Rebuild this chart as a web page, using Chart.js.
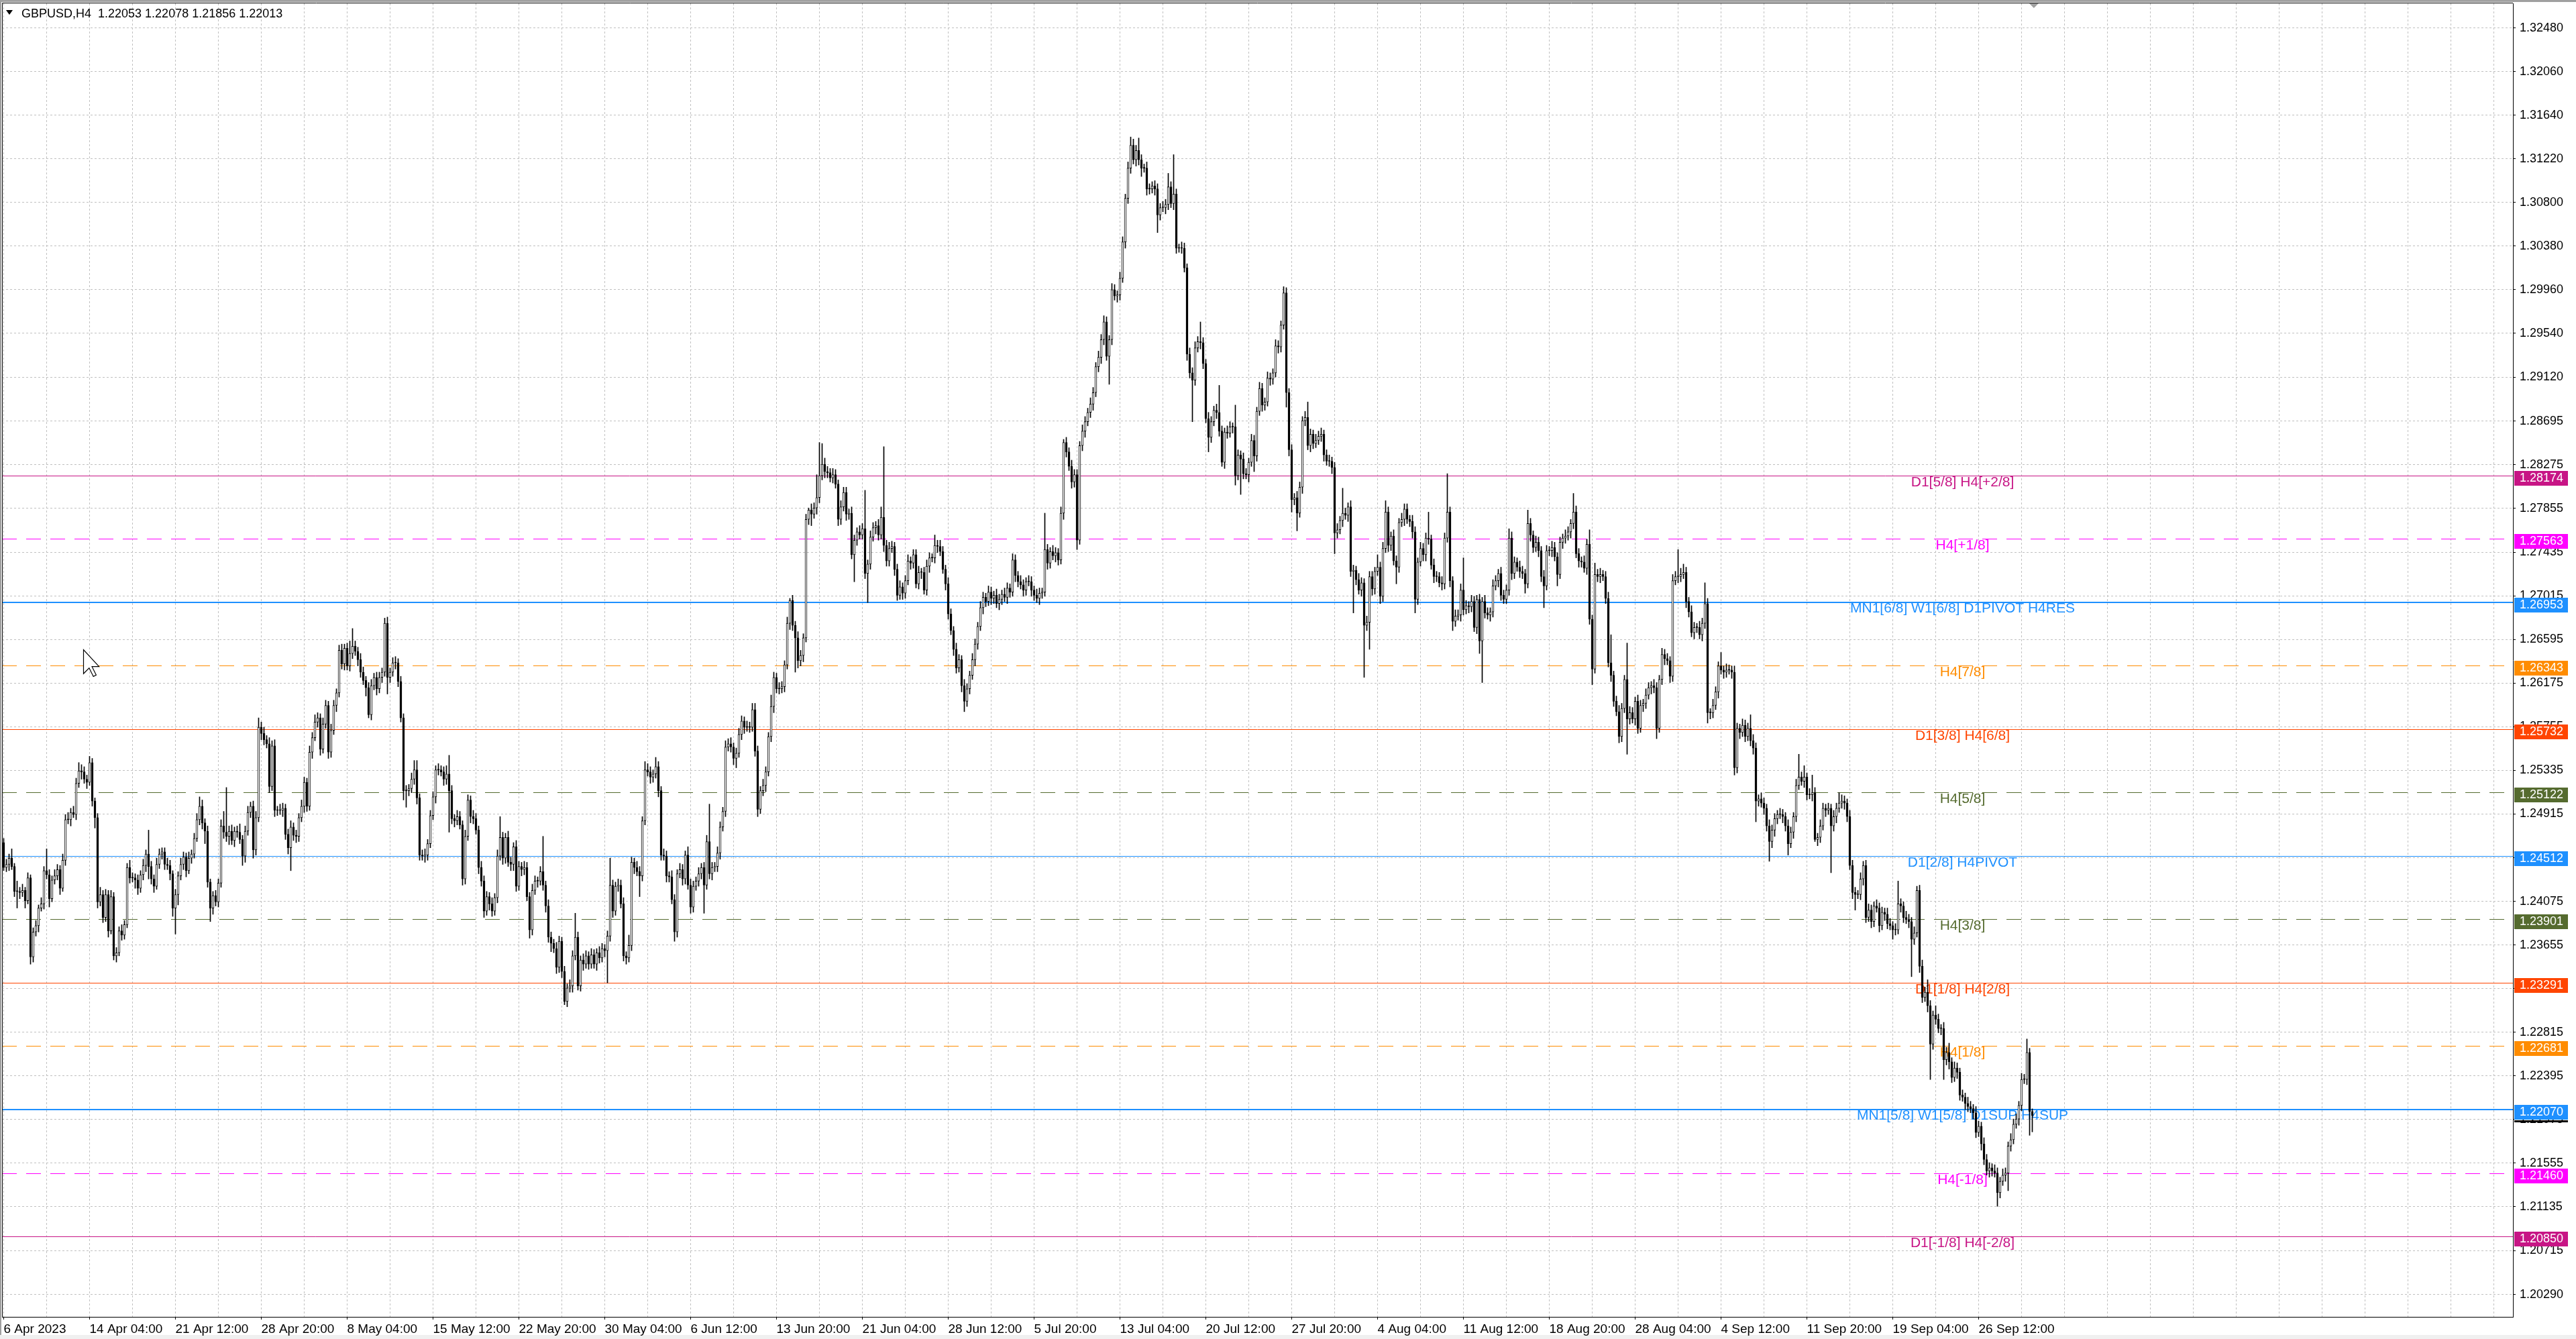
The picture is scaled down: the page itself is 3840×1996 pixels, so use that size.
<!DOCTYPE html>
<html>
<head>
<title>GBPUSD,H4</title>
<script src="https://cdn.jsdelivr.net/npm/chart.js"></script>
<style>
  html, body { margin: 0; padding: 0; background: #fff; }
  #wrap { width: 3840px; height: 1996px; }
</style>
</head>
<body>
<div id="wrap"><canvas id="myChart"></canvas></div>
<script>
const symbol = 'GBPUSD,H4';
const lastOHLC = [1.22053, 1.22078, 1.21856, 1.22013];
const firstOpen = 1.2464;

// H4 closes, one per bar, from 6 Apr 2023 20:00 (open of a bar = close of the one before)
const closes = [
  1.2440,1.2443,1.2449,1.2441,1.2417,1.2417,1.2416,1.2418,1.2408,1.2430,
  1.2354,1.2378,1.2384,1.2401,1.2405,1.2437,1.2433,1.2410,1.2428,1.2432,
  1.2438,1.2420,1.2447,1.2486,1.2486,1.2493,1.2491,1.2521,1.2533,1.2532,
  1.2525,1.2522,1.2541,1.2504,1.2488,1.2407,1.2414,1.2392,1.2414,1.2379,
  1.2412,1.2355,1.2358,1.2379,1.2375,1.2385,1.2440,1.2430,1.2430,1.2428,
  1.2420,1.2433,1.2442,1.2453,1.2441,1.2429,1.2422,1.2443,1.2453,1.2455,
  1.2443,1.2442,1.2434,1.2401,1.2414,1.2432,1.2443,1.2450,1.2437,1.2449,
  1.2453,1.2468,1.2486,1.2499,1.2483,1.2475,1.2426,1.2401,1.2413,1.2407,
  1.2425,1.2480,1.2474,1.2470,1.2475,1.2466,1.2475,1.2474,1.2467,1.2451,
  1.2475,1.2493,1.2499,1.2457,1.2488,1.2575,1.2569,1.2563,1.2559,1.2518,
  1.2557,1.2495,1.2495,1.2495,1.2497,1.2472,1.2459,1.2479,1.2471,1.2470,
  1.2488,1.2499,1.2522,1.2499,1.2551,1.2565,1.2580,1.2584,1.2554,1.2578,
  1.2596,1.2551,1.2572,1.2596,1.2608,1.2649,1.2636,1.2651,1.2634,1.2646,
  1.2653,1.2648,1.2640,1.2628,1.2620,1.2613,1.2587,1.2615,1.2623,1.2612,
  1.2623,1.2628,1.2675,1.2623,1.2628,1.2637,1.2637,1.2619,1.2584,1.2514,
  1.2514,1.2516,1.2525,1.2534,1.2507,1.2452,1.2451,1.2452,1.2463,1.2490,
  1.2508,1.2534,1.2534,1.2532,1.2525,1.2530,1.2514,1.2487,1.2485,1.2489,
  1.2481,1.2429,1.2470,1.2505,1.2489,1.2487,1.2476,1.2440,1.2427,1.2398,
  1.2412,1.2405,1.2398,1.2411,1.2451,1.2469,1.2449,1.2469,1.2445,1.2443,
  1.2460,1.2422,1.2441,1.2438,1.2440,1.2412,1.2380,1.2418,1.2427,1.2427,
  1.2436,1.2423,1.2403,1.2373,1.2367,1.2362,1.2344,1.2369,1.2340,1.2311,
  1.2324,1.2326,1.2355,1.2373,1.2326,1.2351,1.2347,1.2355,1.2347,1.2356,
  1.2347,1.2358,1.2353,1.2362,1.2360,1.2374,1.2423,1.2398,1.2422,1.2423,
  1.2405,1.2355,1.2353,1.2365,1.2445,1.2440,1.2436,1.2432,1.2485,1.2534,
  1.2532,1.2527,1.2530,1.2537,1.2514,1.2452,1.2451,1.2432,1.2431,1.2409,
  1.2378,1.2434,1.2438,1.2429,1.2452,1.2423,1.2402,1.2422,1.2427,1.2434,
  1.2440,1.2423,1.2465,1.2434,1.2440,1.2441,1.2454,1.2479,1.2494,1.2556,
  1.2559,1.2556,1.2545,1.2550,1.2568,1.2581,1.2575,1.2575,1.2575,1.2592,
  1.2552,1.2496,1.2514,1.2519,1.2532,1.2566,1.2595,1.2623,1.2612,1.2612,
  1.2614,1.2635,1.2675,1.2697,1.2673,1.2661,1.2639,1.2644,1.2661,1.2775,
  1.2784,1.2780,1.2786,1.2796,1.2817,1.2828,1.2821,1.2820,1.2815,1.2818,
  1.2809,1.2775,1.2787,1.2801,1.2780,1.2781,1.2741,1.2755,1.2763,1.2760,
  1.2766,1.2723,1.2732,1.2758,1.2767,1.2769,1.2760,1.2777,1.2750,1.2735,
  1.2747,1.2749,1.2727,1.2702,1.2710,1.2704,1.2716,1.2735,1.2733,1.2741,
  1.2713,1.2724,1.2724,1.2707,1.2730,1.2738,1.2738,1.2750,1.2749,1.2744,
  1.2727,1.2713,1.2684,1.2668,1.2650,1.2632,1.2640,1.2615,1.2600,1.2612,
  1.2625,1.2640,1.2655,1.2672,1.2690,1.2700,1.2696,1.2705,1.2699,1.2702,
  1.2694,1.2698,1.2703,1.2700,1.2709,1.2705,1.2736,1.2721,1.2715,1.2712,
  1.2707,1.2715,1.2715,1.2707,1.2702,1.2699,1.2704,1.2705,1.2746,1.2733,
  1.2744,1.2740,1.2743,1.2736,1.2781,1.2849,1.2840,1.2826,1.2811,1.2818,
  1.2755,1.2846,1.2860,1.2869,1.2878,1.2886,1.2897,1.2922,1.2931,1.2948,
  1.2965,1.2932,1.2948,1.2996,1.2990,1.2991,1.3007,1.3042,1.3084,1.3113,
  1.3135,1.3121,1.3130,1.3121,1.3113,1.3113,1.3093,1.3093,1.3096,1.3093,
  1.3068,1.3075,1.3075,1.3078,1.3095,1.3079,1.3088,1.3036,1.3036,1.3036,
  1.3017,1.2934,1.2916,1.2909,1.2940,1.2946,1.2945,1.2925,1.2872,1.2854,
  1.2869,1.2880,1.2878,1.2860,1.2830,1.2859,1.2858,1.2864,1.2864,1.2817,
  1.2837,1.2833,1.2819,1.2818,1.2830,1.2851,1.2836,1.2879,1.2901,1.2885,
  1.2888,1.2911,1.2910,1.2916,1.2942,1.2941,1.2962,1.2993,1.2897,1.2842,
  1.2794,1.2796,1.2781,1.2806,1.2870,1.2873,1.2846,1.2857,1.2848,1.2851,
  1.2855,1.2857,1.2837,1.2831,1.2831,1.2825,1.2762,1.2765,1.2774,1.2781,
  1.2779,1.2787,1.2725,1.2726,1.2717,1.2707,1.2714,1.2673,1.2676,1.2720,
  1.2708,1.2725,1.2729,1.2701,1.2747,1.2782,1.2750,1.2759,1.2735,1.2729,
  1.2772,1.2775,1.2785,1.2775,1.2773,1.2763,1.2698,1.2734,1.2747,1.2741,
  1.2757,1.2756,1.2731,1.2720,1.2720,1.2714,1.2713,1.2757,1.2782,1.2716,
  1.2677,1.2682,1.2683,1.2707,1.2688,1.2692,1.2691,1.2696,1.2671,1.2698,
  1.2658,1.2696,1.2685,1.2683,1.2686,1.2711,1.2716,1.2723,1.2702,1.2698,
  1.2707,1.2757,1.2723,1.2734,1.2729,1.2725,1.2723,1.2713,1.2771,1.2760,
  1.2748,1.2753,1.2745,1.2720,1.2711,1.2745,1.2745,1.2748,1.2739,1.2722,
  1.2753,1.2757,1.2759,1.2763,1.2771,1.2782,1.2742,1.2735,1.2734,1.2728,
  1.2751,1.2679,1.2631,1.2722,1.2720,1.2722,1.2720,1.2699,1.2637,1.2625,
  1.2600,1.2590,1.2566,1.2593,1.2621,1.2583,1.2589,1.2583,1.2600,1.2574,
  1.2596,1.2598,1.2606,1.2613,1.2615,1.2613,1.2574,1.2621,1.2645,1.2641,
  1.2639,1.2624,1.2716,1.2720,1.2720,1.2722,1.2724,1.2696,1.2686,1.2666,
  1.2671,1.2671,1.2664,1.2675,1.2694,1.2589,1.2589,1.2596,1.2609,1.2634,
  1.2630,1.2628,1.2630,1.2630,1.2628,1.2536,1.2574,1.2570,1.2577,1.2566,
  1.2574,1.2562,1.2555,1.2504,1.2506,1.2502,1.2497,1.2480,1.2465,1.2476,
  1.2487,1.2491,1.2491,1.2489,1.2480,1.2463,1.2474,1.2489,1.2519,1.2527,
  1.2523,1.2527,1.2510,1.2510,1.2512,1.2467,1.2469,1.2480,1.2497,1.2495,
  1.2497,1.2480,1.2489,1.2497,1.2502,1.2504,1.2502,1.2489,1.2442,1.2416,
  1.2414,1.2414,1.2429,1.2442,1.2392,1.2399,1.2388,1.2403,1.2401,1.2384,
  1.2397,1.2395,1.2386,1.2384,1.2380,1.2380,1.2405,1.2403,1.2392,1.2390,
  1.2388,1.2371,1.2377,1.2418,1.2345,1.2315,1.2320,1.2307,1.2270,1.2298,
  1.2294,1.2285,1.2285,1.2255,1.2262,1.2253,1.2238,1.2247,1.2243,1.2221,
  1.2219,1.2213,1.2210,1.2208,1.2204,1.2185,1.2191,1.2174,1.2159,1.2148,
  1.2151,1.2148,1.2146,1.2127,1.2138,1.2144,1.2146,1.2172,1.2178,1.2193,
  1.2198,1.2211,1.2236,1.2236,1.2262,1.22053,1.22013
];

// upper / lower shadow of each bar, in pips
const wickUp = [
  4,5,4,9,3,10,4,6,3,5, 3,4,5,3,6,4,21,5,4,6, 5,4,6,5,7,4,6,5,8,6, 5,4,6,4,3,4,7,4,5,4, 6,4,5,4,6,4,4,7,5,4,
  5,4,6,4,23,5,4,6,5,4, 4,6,5,3,5,4,6,5,4,6, 4,5,6,9,6,4,5,3,4,5, 4,6,14,43,5,6,4,5,8,4, 5,6,4,5,6,9,5,6,4,6,
  5,6,4,6,5,4,5,6,4,5, 4,6,5,4,6,5,7,5,4,6, 5,4,6,5,4,5,6,4,5,12, 17,5,4,6,5,4,5,6,4,5, 5,4,5,6,4,5,6,4,5,4,
  5,4,6,9,9,4,5,6,4,5, 5,4,6,4,5,8,18,5,4,6, 5,4,6,5,4,6,5,4,6,5, 5,4,6,4,6,20,5,4,6,5, 4,6,5,4,6,5,4,6,5,4,
  5,34,4,6,5,4,6,5,4,5, 4,6,5,23,5,4,6,5,4,6, 5,4,6,5,4,5,26,5,4,6, 5,6,4,10,5,4,6,5,4,8, 6,5,4,9,5,4,6,5,4,6,
  5,4,6,5,4,8,6,5,4,6, 4,5,6,36,5,4,6,5,4,6, 5,6,4,5,6,5,4,6,5,6, 6,5,4,6,5,4,11,5,4,6, 5,4,6,2,5,4,6,5,4,5,
  2,6,5,22,32,20,6,5,4,6, 5,4,6,5,5,4,6,5,4,6, 5,37,4,6,5,4,6,10,68,5, 6,5,4,5,6,4,5,6,4,5, 5,6,4,5,6,5,4,10,5,6,
  5,4,6,5,4,6,5,4,6,5, 4,6,5,4,6,5,4,6,5,4, 6,5,4,6,5,4,6,5,4,6, 5,4,6,5,4,6,5,4,35,5, 4,6,5,4,6,3,5,4,6,5,
  5,4,6,5,4,6,5,4,6,5, 6,5,4,6,5,4,6,5,4,6, 8,6,5,12,5,4,6,5,4,5, 5,4,6,5,13,5,38,5,4,6, 5,4,6,5,6,5,19,5,4,6,
  5,4,6,26,5,4,6,5,4,21, 5,4,6,5,4,6,5,4,6,5, 4,6,5,4,6,5,4,6,5,4, 5,4,6,5,4,6,15,5,4,6, 5,6,4,5,6,4,5,6,4,24,
  5,4,6,5,4,6,5,4,6,5, 5,4,12,5,6,11,5,4,6,5, 4,6,5,5,4,6,5,4,6,5, 5,25,4,6,5,4,6,5,37,5, 4,6,5,6,31,5,4,6,5,4,
  5,4,6,5,4,6,5,4,6,5, 5,9,6,5,4,6,5,4,13,5, 4,6,5,4,6,5,4,6,5,4, 5,4,6,5,4,18,6,5,4,6, 5,14,4,11,5,6,4,5,6,27,
  4,5,6,5,4,35,6,5,4,6, 5,4,6,5,4,6,5,4,6,5, 5,4,6,5,26,6,8,5,4,6, 5,4,6,5,20,5,4,6,5,4, 13,4,6,5,4,6,5,4,6,5,
  5,13,6,5,4,6,5,4,6,5, 5,4,6,5,4,6,5,4,6,22, 5,11,4,6,17,5,4,6,5,4, 5,4,6,5,10,6,5,4,6,5, 5,4,6,4,5,6,5,4,6,5,
  5,4,6,5,4,6,22,5,4,6, 5,4,6,4,5,6,5,12,5,4, 9,5,4,6,5,9,4,6,5,4, 5,4,6,5,4,6,5,4,6,5, 5,4,6,5,4,6,5,4,6,5,
  5,4,6,5,13,4,2.5
];
const wickDown = [
  3,4,6,3,5,16,6,4,7,3, 7,5,4,6,3,5,4,8,3,4, 4,6,3,5,4,6,3,5,4,7, 4,6,3,5,10,6,4,5,4,6, 3,4,6,3,5,4,3,5,4,8,
  6,4,5,6,12,5,6,3,4,5, 5,4,6,8,25,10,4,5,6,3, 5,4,3,5,6,12,5,13,6,4, 5,4,6,5,8,4,6,5,4,9, 6,4,5,8,5,4,6,5,4,6,
  4,6,5,4,6,5,6,22,5,6, 5,4,6,5,4,6,3,5,6,4, 4,6,5,4,6,4,5,6,4,5, 5,4,6,5,4,8,3,5,4,6, 4,5,4,16,5,4,6,5,4,9,
  16,5,4,5,6,5,4,6,5,4, 4,6,5,4,6,5,40,5,6,4, 4,6,5,4,6,5,4,6,5,6, 4,6,5,4,5,4,6,5,4,6, 6,5,4,6,5,4,8,5,4,6,
  4,5,6,5,8,4,6,5,6,3, 5,4,6,4,4,5,6,4,5,4, 4,6,5,4,6,31,5,6,4,5, 4,5,6,4,5,6,4,20,5,4, 4,6,5,4,6,5,4,6,5,4,
  9,5,4,6,5,4,6,5,4,5, 5,27,4,5,6,4,5,6,4,5, 4,5,6,9,4,5,6,4,5,4, 5,7,4,5,6,4,5,6,4,5, 4,5,4,6,5,33,7,5,6,4,
  5,11,4,6,5,4,6,5,4,5, 4,6,5,4,6,5,4,26,5,4, 4,5,28,5,4,6,5,4,6,5, 5,4,6,5,4,6,5,4,6,5, 4,5,6,4,5,6,4,5,6,4,
  4,6,5,4,6,5,4,6,10,5, 5,4,6,5,4,6,5,4,6,5, 4,6,5,4,6,5,4,6,5,4, 6,5,4,6,5,4,6,5,4,6, 5,4,6,5,4,6,5,4,6,5,
  9,4,5,6,4,5,6,4,5,6, 5,4,27,5,4,6,5,4,6,5, 5,4,6,5,8,4,6,5,4,6, 17,5,4,6,5,4,6,5,4,5, 4,6,5,40,5,4,6,5,4,14,
  5,4,6,5,4,6,5,4,6,9, 4,34,5,4,7,4,15,5,4,6, 5,4,6,5,4,6,5,4,14,6, 12,5,17,4,6,5,4,6,5,4, 4,5,6,4,5,6,20,5,4,6,
  4,6,5,40,5,4,6,50,5,26, 6,5,4,7,5,4,6,5,4,16, 5,4,6,4,5,6,13,5,4,6, 6,5,4,6,5,4,6,5,4,6, 9,5,4,6,5,4,6,5,4,6,
  12,40,5,4,6,5,4,6,5,4, 4,5,6,5,4,6,5,9,4,6, 5,4,6,5,21,4,5,6,4,11, 4,6,5,4,6,5,4,6,5,4, 6,5,15,4,5,6,4,5,4,6,
  5,4,6,5,4,34,5,4,6,5, 4,6,5,4,6,5,10,4,5,6, 4,6,5,4,6,5,4,6,5,4, 6,5,4,6,5,10,6,5,4,6, 4,6,5,4,6,7,5,6,4,5,
  4,5,6,20,5,4,6,5,19,6, 6,5,4,6,5,11,4,6,5,4, 4,6,5,4,6,2,6,5,4,6, 4,45,5,6,4,5,6,5,4,6, 15,4,5,6,5,4,6,5,4,6,
  4,6,5,4,9,5,4,6,5,4, 6,36,5,4,6,5,4,6,34,5, 5,4,6,19,5,7,5,4,6,5, 4,6,5,4,6,5,4,6,5,4, 6,5,4,13,5,4,6,17,5,4,
  4,6,5,4,5,23,15.7
];

// time axis: one label every 32 bars, grid every 16 bars
const timeLabels = ['6 Apr 2023','14 Apr 04:00','21 Apr 12:00','28 Apr 20:00','8 May 04:00','15 May 12:00',
  '22 May 20:00','30 May 04:00','6 Jun 12:00','13 Jun 20:00','21 Jun 04:00','28 Jun 12:00','5 Jul 20:00',
  '13 Jul 04:00','20 Jul 12:00','27 Jul 20:00','4 Aug 04:00','11 Aug 12:00','18 Aug 20:00','28 Aug 04:00',
  '4 Sep 12:00','11 Sep 20:00','19 Sep 04:00','26 Sep 12:00'];
const barsPerLabel = 32;
const barsPerGrid = 16;

const priceTicks = [1.32480,1.32060,1.31640,1.31220,1.30800,1.30380,1.29960,1.29540,1.29120,1.28695,
  1.28275,1.27855,1.27435,1.27015,1.26595,1.26175,1.25755,1.25335,1.24915,1.24495,1.24075,1.23655,
  1.23235,1.22815,1.22395,1.21975,1.21555,1.21135,1.20715,1.20290];

// Murrey / pivot levels drawn across the chart
const levelPrices = [1.28174,1.27563,1.26953,1.26343,1.25732,1.25122,1.24512,1.23901,1.23291,1.22681,1.22070,1.21460,1.20850];
const levelNames = ['D1[5/8] H4[+2/8]','H4[+1/8]','MN1[6/8] W1[6/8] D1PIVOT H4RES','H4[7/8]','D1[3/8] H4[6/8]',
  'H4[5/8]','D1[2/8] H4PIVOT','H4[3/8]','D1[1/8] H4[2/8]','H4[1/8]','MN1[5/8] W1[5/8] D1SUP H4SUP','H4[-1/8]','D1[-1/8] H4[-2/8]'];
const levelColors = ['#C71585','#FF00FF','#1E90FF','#FF8C00','#FF4500','#556B2F','#1E90FF',
  '#556B2F','#FF4500','#FF8C00','#1E90FF','#FF00FF','#C71585'];
const levelDashed = [false,true,false,true,false,true,false,true,false,true,false,true,false];
const levelWidths = [1,1,2,1,1,1,1,1,1,1,2,1,1];
const levelLabelBar = 730;

const FONT = '"Liberation Sans", Arial, sans-serif';

// build wick and body bars
const wicks = [];
const bodies = [];
const bodyFill = [];
let prev = firstOpen;
closes.forEach((c, i) => {
  const o = prev;
  const hi = Math.max(o, c) + wickUp[i] / 10000;
  const lo = Math.min(o, c) - wickDown[i] / 10000;
  wicks.push({x: i, y: [lo, hi]});
  bodies.push({x: i, y: [o, c]});
  bodyFill.push(c > o ? '#ffffff' : '#000000');
  prev = c;
});

const gridBars = [];
for (let b = 0; b <= 935; b += barsPerGrid) gridBars.push(b);

const isLabelTick = v => v % barsPerLabel === 0 && v / barsPerLabel < timeLabels.length;

const frame = {
  id: 'frame',
  beforeDraw(chart) {
    const ctx = chart.ctx;
    ctx.save();
    ctx.fillStyle = '#ffffff';
    ctx.fillRect(0, 0, chart.width, chart.height);
    ctx.fillStyle = '#f0f0f0';
    ctx.fillRect(0, 1990, chart.width, chart.height - 1990);
    ctx.fillStyle = '#a0a0a0';
    ctx.fillRect(0, 0, chart.width, 3);
    ctx.fillRect(0, 0, 2, 1990);
    ctx.restore();
  },
  beforeDatasetsDraw(chart) {
    const {ctx, chartArea: a, scales: {x, y}} = chart;
    ctx.save();
    ctx.beginPath();
    ctx.rect(a.left, a.top, a.right - a.left, a.bottom - a.top);
    ctx.clip();
    levelPrices.forEach((p, k) => {
      const py = Math.round(y.getPixelForValue(p)) + (levelWidths[k] % 2 ? 0.5 : 0);
      ctx.strokeStyle = levelColors[k];
      ctx.lineWidth = levelWidths[k];
      ctx.setLineDash(levelDashed[k] ? [22, 14] : []);
      ctx.beginPath();
      ctx.moveTo(a.left, py);
      ctx.lineTo(a.right, py);
      ctx.stroke();
      ctx.fillStyle = levelColors[k];
      ctx.font = '21px ' + FONT;
      ctx.textAlign = 'center';
      ctx.textBaseline = 'top';
      ctx.fillText(levelNames[k], x.getPixelForValue(levelLabelBar), py - 1);
    });
    ctx.restore();
  },
  afterDraw(chart) {
    const {ctx, chartArea: a, scales: {x, y}} = chart;
    ctx.save();
    // frame of the plot area
    ctx.strokeStyle = '#000';
    ctx.lineWidth = 1;
    ctx.beginPath();
    ctx.moveTo(a.left + 0.5, a.bottom);
    ctx.lineTo(a.left + 0.5, a.top - 0.5);
    ctx.lineTo(a.right, a.top - 0.5);
    ctx.stroke();

    // price boxes on the right scale
    const bx = y.left + 2;
    const bidY = Math.round(y.getPixelForValue(lastOHLC[3]));
    ctx.fillStyle = '#000';
    ctx.fillRect(bx, bidY + 7, 80, 3);
    ctx.font = '18px ' + FONT;
    ctx.textAlign = 'left';
    ctx.textBaseline = 'middle';
    levelPrices.forEach((p, k) => {
      const py = Math.round(y.getPixelForValue(p));
      ctx.fillStyle = levelColors[k];
      ctx.fillRect(bx, py - 7, 80, 22);
      ctx.fillStyle = '#fff';
      ctx.fillText(p.toFixed(5), y.left + 10, py + 4);
    });

    // symbol line at top left
    ctx.fillStyle = '#000';
    ctx.beginPath();
    ctx.moveTo(9, 15); ctx.lineTo(19, 15); ctx.lineTo(14, 22); ctx.closePath();
    ctx.fill();
    ctx.font = '18px ' + FONT;
    ctx.textBaseline = 'alphabetic';
    ctx.fillText(symbol + '  ' + lastOHLC.map(v => v.toFixed(5)).join(' '), 32, 26);

    // chart shift marker
    const sx = x.getPixelForValue(756.6);
    ctx.fillStyle = '#a0a0a0';
    ctx.beginPath();
    ctx.moveTo(sx - 7, a.top); ctx.lineTo(sx + 7, a.top); ctx.lineTo(sx, a.top + 7); ctx.closePath();
    ctx.fill();

    // mouse pointer
    const pts = [[0,0],[0,17],[4,13],[7,19],[9,18],[6,12],[11,12]];
    ctx.beginPath();
    pts.forEach((p, i) => {
      const px = 124.5 + p[0] * 2.1, py = 968.5 + p[1] * 2.1;
      if (i) ctx.lineTo(px, py); else ctx.moveTo(px, py);
    });
    ctx.closePath();
    ctx.fillStyle = '#fff';
    ctx.fill();
    ctx.strokeStyle = '#000';
    ctx.lineWidth = 1.2;
    ctx.stroke();
    ctx.restore();
  }
};

const ctx = document.getElementById('myChart');
new Chart(ctx, {
  type: 'bar',
  data: {
    datasets: [
      {
        label: 'body',
        data: bodies,
        backgroundColor: bodyFill,
        borderColor: '#000',
        borderWidth: 1,
        borderSkipped: false,
        barThickness: 3,
        minBarLength: 1,
        grouped: false,
        order: 1
      },
      {
        label: 'wick',
        data: wicks,
        backgroundColor: '#000',
        borderWidth: 0,
        barThickness: 1,
        grouped: false,
        order: 2
      }
    ]
  },
  options: {
    animation: false,
    responsive: true,
    maintainAspectRatio: false,
    devicePixelRatio: 1,
    layout: { padding: { left: 3, top: 5, right: 0, bottom: 0 } },
    plugins: { legend: { display: false }, tooltip: { enabled: false } },
    scales: {
      x: {
        type: 'linear',
        min: -0.625,
        max: 935.125,
        bounds: 'data',
        offset: false,
        afterBuildTicks: s => { s.ticks = gridBars.map(v => ({ value: v })); },
        afterFit: s => { s.height = 33; s.paddingLeft = 0; s.paddingRight = 0; },
        grid: {
          offset: false,
          color: '#c0c0c0',
          lineWidth: 1,
          tickLength: 4,
          tickColor: c => (c.tick && isLabelTick(c.tick.value)) ? '#000' : 'rgba(0,0,0,0)'
        },
        border: { color: '#000', width: 1, dash: [3, 3] },
        ticks: {
          autoSkip: false,
          maxRotation: 0,
          minRotation: 0,
          align: 'start',
          padding: 3,
          color: '#000',
          font: { family: FONT, size: 19 },
          callback: v => isLabelTick(v) ? timeLabels[v / barsPerLabel] : ''
        }
      },
      y: {
        position: 'right',
        min: 1.20076,
        max: 1.32716,
        bounds: 'data',
        afterBuildTicks: s => { s.ticks = priceTicks.map(v => ({ value: v })); },
        afterFit: s => { s.width = 94; s.paddingTop = 0; s.paddingBottom = 0; },
        grid: { color: '#c0c0c0', lineWidth: 1, tickLength: 4, tickColor: '#000' },
        border: { color: '#000', width: 1, dash: [3, 3] },
        ticks: {
          autoSkip: false,
          padding: 6,
          color: '#000',
          font: { family: FONT, size: 18 },
          callback: v => v.toFixed(5)
        }
      }
    }
  },
  plugins: [frame]
});
</script>
</body>
</html>
